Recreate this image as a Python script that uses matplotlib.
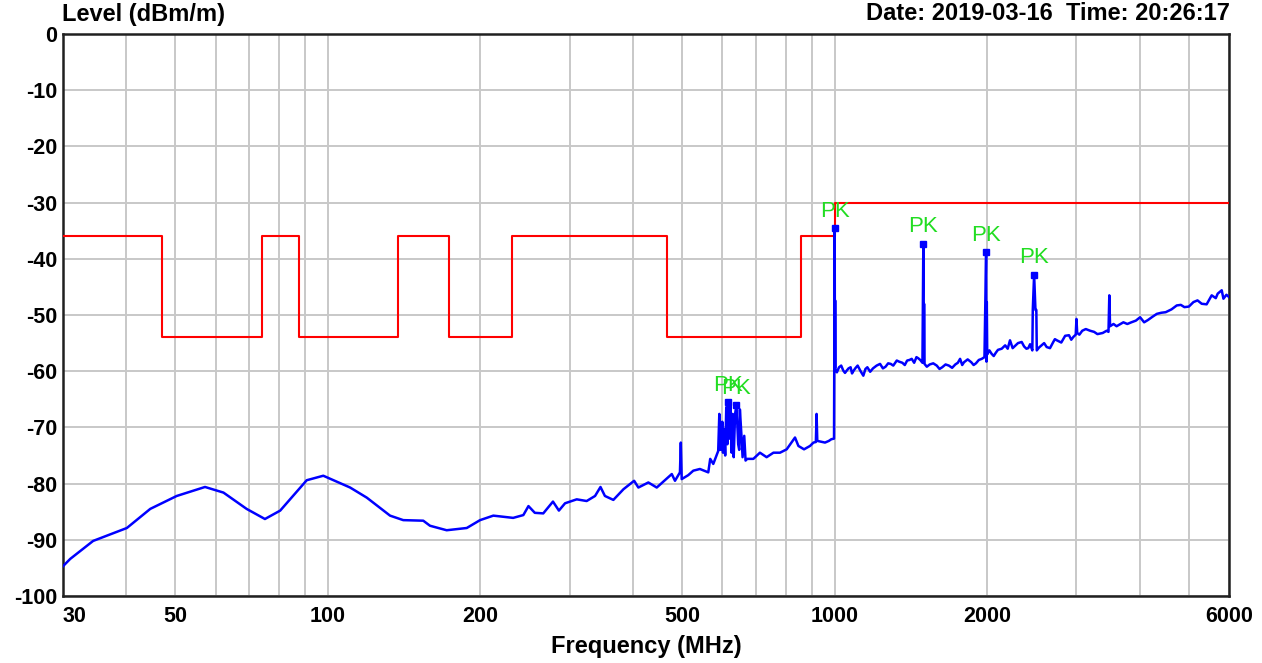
import matplotlib
matplotlib.use("Agg")
import matplotlib.pyplot as plt

# ---------------- data ----------------
trace_freq = [30, 31, 34.4, 40.1, 44.6, 50.3, 57.2, 62.2, 69.1, 75.1, 80.5, 90.8, 97.9,
              110.6, 119.3, 132.6, 140.8, 154.2, 159, 171.5, 187.9, 199.6, 212, 232, 243,
              248.7, 256, 266, 278, 285.6, 293.7, 309.7, 324, 336.6, 345, 352, 365.8, 383,
              402, 409.8, 428.8, 445.5, 477, 484, 495, 497, 499, 514, 526, 542, 563, 568,
              576, 589, 592, 594, 597, 600, 602, 605, 608, 611, 614, 617, 620, 623, 626,
              629, 632, 636, 640, 645, 648, 650, 655, 658, 663, 667, 672, 691, 712, 734,
              757, 780, 804, 835, 848, 870, 894, 908, 918, 921, 924, 957, 974, 985, 997,
              1000, 1001, 1002, 1003, 1020, 1040, 1056, 1075, 1090, 1110, 1139, 1160, 1190,
              1229, 1260, 1290, 1326, 1360, 1390, 1419, 1450, 1475, 1490, 1496, 1499, 1501,
              1504, 1540, 1590, 1630, 1680, 1730, 1768, 1800, 1860, 1900, 1951, 1975, 1990,
              1993, 1996, 2000, 2040, 2080, 2136, 2218, 2270, 2339, 2390, 2430, 2455, 2460,
              2475, 2490, 2500, 2505, 2560, 2620, 2700, 2744, 2850, 2958, 2990, 3000, 3010,
              3080, 3192, 3300, 3441, 3470, 3483, 3495, 3550, 3713, 3850, 4006, 4150, 4322,
              4500, 4732, 4900, 5105, 5300, 5546, 5650, 5805, 5850, 6000,
              # additional readings of the jitter above 1 GHz
              1010, 1030, 1048, 1065, 1082, 1100, 1125, 1150, 1175, 1210, 1245, 1275, 1305,
              1340, 1375, 1405, 1435, 1462, 1520, 1565, 1610, 1655, 1705, 1750, 1785, 1830,
              1880, 1925, 2020, 2060, 2100, 2170, 2195, 2245, 2300, 2365, 2410, 2530, 2590,
              2660, 2720, 2800, 2900, 2930, 3040, 3130, 3250, 3380, 3600, 3780, 3930, 4080,
              4240, 4410, 4620, 4820, 5000, 5200, 5420, 5700, 5930]
trace_level = [-94.7, -93.4, -90.2, -87.9, -84.5, -82.2, -80.6, -81.6, -84.5, -86.3, -84.8,
               -79.4, -78.6, -80.7, -82.5, -85.7, -86.5, -86.6, -87.5, -88.3, -87.9, -86.5,
               -85.7, -86.1, -85.6, -84.0, -85.2, -85.3, -83.2, -84.8, -83.5, -82.8, -83.1,
               -82.2, -80.6, -82.2, -82.9, -81.0, -79.5, -80.7, -79.8, -80.7, -78.3, -79.5,
               -78.0, -72.7, -79.2, -78.5, -77.7, -77.4, -78.0, -75.6, -76.5, -74.2, -67.6,
               -74.0, -73.9, -69.0, -74.5, -70.3, -75.0, -66.4, -73.0, -65.5, -72.0, -66.0,
               -74.5, -67.6, -75.3, -67.6, -66.0, -73.0, -74.0, -66.8, -71.8, -75.3, -71.5,
               -75.9, -75.6, -75.6, -74.5, -75.3, -74.5, -74.5, -73.9, -71.8, -73.3, -73.9,
               -73.3, -72.7, -72.6, -67.6, -72.4, -72.7, -72.4, -72.1, -72.0, -34.6, -59.5,
               -47.4, -59.6, -59.3, -59.9, -59.9, -59.3, -59.9, -59.0, -60.8, -59.3, -59.5,
               -58.7, -59.2, -58.7, -58.1, -58.5, -58.1, -57.8, -57.5, -58.0, -58.5, -37.3,
               -58.5, -48.0, -58.7, -58.8, -59.0, -59.3, -59.0, -58.8, -57.8, -58.4, -58.4,
               -58.6, -57.8, -57.5, -38.8, -58.3, -47.7, -57.0, -56.9, -56.7, -56.0, -54.5,
               -55.5, -54.8, -56.0, -55.2, -56.3, -49.1, -42.8, -49.1, -49.1, -56.3, -55.4,
               -55.7, -54.8, -54.5, -53.7, -53.9, -53.5, -50.7, -53.2, -52.8, -52.8, -53.4,
               -52.8, -53.0, -46.5, -52.0, -51.6, -51.3, -51.3, -50.4, -50.9, -49.8, -49.5,
               -48.3, -48.6, -47.7, -48.0, -46.5, -47.0, -45.6, -47.1, -46.8,
               -60.2, -59.0, -60.3, -59.5, -60.4, -59.4, -60.0, -59.6, -60.1, -59.0, -59.5,
               -58.6, -59.0, -58.3, -58.9, -58.0, -58.5, -57.7, -59.2, -58.6, -59.6, -58.8,
               -59.4, -58.5, -58.9, -57.9, -58.9, -58.0, -56.3, -57.3, -56.2, -55.4, -56.0,
               -55.9, -55.0, -55.6, -55.9, -55.8, -55.0, -55.9, -54.3, -54.9, -53.6, -54.4,
               -53.5, -52.5, -53.0, -53.2, -52.0, -51.6, -51.0, -51.3, -50.3, -49.6, -49.0,
               -48.2, -48.5, -47.4, -48.1, -46.2, -46.4]

# limit line (step edges and levels)
limit_freq = [30, 47, 47, 74, 74, 87.7, 87.7, 137.5, 137.5, 173.5, 173.5, 230.8, 230.8,
              467, 467, 858, 858, 1000, 1000, 6000]
limit_level = [-36, -36, -54, -54, -36, -36, -54, -54, -36, -36, -54, -54, -36, -36,
               -54, -54, -36, -36, -30, -30]

# peak markers
pk_freq = [617, 639, 1000, 1496, 1990, 2475]
pk_level = [-65.5, -66.0, -34.6, -37.3, -38.8, -42.8]
pk_text = ["PK", "PK", "PK", "PK", "PK", "PK"]

# axes ticks
grid_freqs = [30, 40, 50, 60, 70, 80, 90, 100, 200, 300, 400, 500, 600, 700, 800, 900,
              1000, 2000, 3000, 4000, 5000, 6000]
labeled_freqs = [30, 50, 100, 200, 500, 1000, 2000, 6000]
y_ticks = [0, -10, -20, -30, -40, -50, -60, -70, -80, -90, -100]

title_left = "Level (dBm/m)"
title_right = "Date: 2019-03-16  Time: 20:26:17"
x_label = "Frequency (MHz)"

# ---------------- plot ----------------
plt.rcParams['font.family'] = ['Liberation Sans', 'DejaVu Sans']

# keep the sweep in frequency order (extra readings were appended)
pairs = sorted(zip(trace_freq, trace_level), key=lambda p: p[0])
tf = [p[0] for p in pairs]
tl = [p[1] for p in pairs]

W, H = 1262, 663
fig = plt.figure(figsize=(W / 100, H / 100), dpi=100)
L, R, T, B = 63, 1229, 34, 596
ax = fig.add_axes([L / W, 1 - B / H, (R - L) / W, (B - T) / H])

ax.set_xscale('log')
ax.set_xlim(30, 6000)
ax.set_ylim(-100, 0)

ax.set_xticks(grid_freqs)
ax.set_xticklabels([str(f) if f in labeled_freqs else "" for f in grid_freqs])
ax.xaxis.set_minor_locator(matplotlib.ticker.NullLocator())
ax.set_yticks(y_ticks)
ax.set_yticklabels([str(v) for v in y_ticks])

ax.grid(True, which='major', color='#c8c8c8', linewidth=1.4)
ax.set_axisbelow(True)
ax.tick_params(axis='both', length=0, labelsize=15.5)
ax.tick_params(axis='x', pad=7)
ax.tick_params(axis='y', pad=4)
for lab in ax.get_xticklabels() + ax.get_yticklabels():
    lab.set_fontweight('bold')
for lab in ax.get_xticklabels():
    if lab.get_text() == "30":
        lab.set_horizontalalignment('left')

for s in ax.spines.values():
    s.set_linewidth(1.8)
    s.set_color('#202020')

ax.plot(limit_freq, limit_level, color='#ff0000', linewidth=1.5, zorder=3)
ax.plot(tf, tl, color='#0000ff', linewidth=1.8, zorder=4)
ax.plot(pk_freq, pk_level, linestyle='none', marker='s', markersize=5,
        color='#0000ff', zorder=5)
for f, v, t in zip(pk_freq, pk_level, pk_text):
    ax.annotate(t, (f, v), xytext=(0, 12), textcoords='offset points',
                ha='center', va='center', color='#22dd22', fontsize=16, zorder=6)

fig.text(62 / W, 1 - 15 / H, title_left, ha='left', va='center',
         fontsize=17, fontweight='bold')
fig.text(1230 / W, 1 - 14 / H, title_right, ha='right', va='center',
         fontsize=17, fontweight='bold')
fig.text(646 / W, 1 - 646 / H, x_label, ha='center', va='center',
         fontsize=17, fontweight='bold')

fig.savefig('out.png', dpi=100, facecolor='white')
